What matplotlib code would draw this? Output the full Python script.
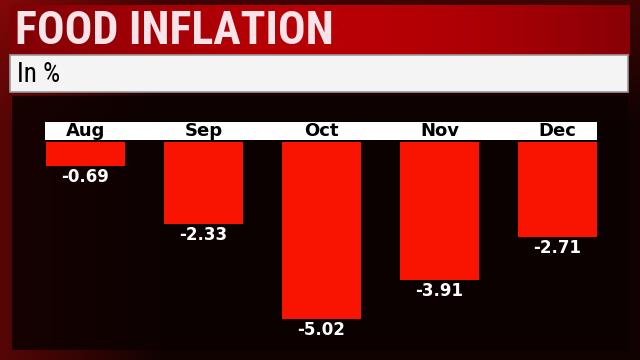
import numpy as np
import matplotlib.pyplot as plt
from matplotlib.patches import Rectangle
from matplotlib.transforms import blended_transform_factory
from matplotlib import font_manager

months = ['Aug', 'Sep', 'Oct', 'Nov', 'Dec']
food_inflation = [-0.69, -2.33, -5.02, -3.91, -2.71]

W, H = 640, 360

# pick a condensed face if one is installed
names = {f.name for f in font_manager.fontManager.ttflist}
narrow = [n for n in ['Liberation Sans Narrow', 'Roboto Condensed', 'Open Sans Condensed',
                      'DejaVu Sans'] if n in names]
cond_stretch = 'condensed'

fig = plt.figure(figsize=(6.4, 3.6), dpi=100, facecolor='#120202')

def px(x0, y0, x1, y1):
    # pixel box (top-left origin) -> figure fraction rect
    return [x0 / W, 1 - y1 / H, (x1 - x0) / W, (y1 - y0) / H]

def box(x0, y0, x1, y1, **kw):
    r = px(x0, y0, x1, y1)
    fig.add_artist(Rectangle(r[:2], r[2], r[3], transform=fig.transFigure, **kw))

# background with a reddish glow on the left/top
bg = fig.add_axes([0, 0, 1, 1], zorder=0)
bg.set_axis_off()
xx, yy = np.meshgrid(np.linspace(0, 1, 320), np.linspace(0, 1, 180))
glow = np.clip(1 - xx * 4, 0, 1) * 0.6 + np.clip(1 - yy * 3, 0, 1) * 0.4
rgb = np.zeros((180, 320, 3))
rgb[..., 0] = 0.07 + 0.45 * glow
rgb[..., 1] = 0.01 + 0.02 * glow
rgb[..., 2] = 0.01 + 0.02 * glow
bg.imshow(rgb, extent=[0, 1, 0, 1], aspect='auto')
bg.set_xlim(0, 1)
bg.set_ylim(0, 1)

# title band
band = np.linspace(0, 1, 100)[None, :]
tb = fig.add_axes(px(10, 5, 630, 56), zorder=1)
tb.set_axis_off()
tb.imshow(np.dstack([0.50 + 0.22 * np.sin(band * 3), 0.0 * band, 0.02 + 0 * band]),
          extent=[0, 1, 0, 1], aspect='auto')
fig.text(15 / W, 1 - 31 / H, 'FOOD INFLATION', color='#f7e4e9', fontsize=33,
         fontweight='bold', family=narrow, fontstretch=cond_stretch,
         va='center', ha='left', zorder=3)

# subtitle strip
box(10, 55, 628, 92, facecolor='#f4f4f4', edgecolor='#9a9a9a', lw=1.2, zorder=2)
fig.text(17 / W, 1 - 74 / H, 'In %', color='black', fontsize=19.5,
         family=narrow, fontstretch=cond_stretch, va='center', ha='left', zorder=3)

# dark chart panel
box(12, 96, 628, 350, facecolor='#0c0101', edgecolor='none', alpha=0.85, zorder=1)

# month header strip
box(45, 122, 597, 140, facecolor='white', edgecolor='none', zorder=2)

ax = fig.add_axes(px(26.5, 142, 616.5, 350), zorder=4)
ax.set_facecolor('none')
x = np.arange(len(months))
ax.bar(x, food_inflation, width=0.67, color='#f81400', edgecolor='none')
ax.set_xlim(-0.5, len(months) - 0.5)
ax.set_ylim(-5.91, 0)
ax.set_axis_off()

hdr = blended_transform_factory(ax.transData, fig.transFigure)
for i, m in enumerate(months):
    ax.text(i, 1 - 131 / H, m, transform=hdr, ha='center', va='center',
            fontsize=13, fontweight='bold', color='black', clip_on=False)
for i, v in enumerate(food_inflation):
    ax.annotate(f'{v:.2f}', (i, v), xytext=(0, -1.5), textcoords='offset points',
                ha='center', va='top', fontsize=12, fontweight='bold', color='white')

fig.savefig('out.png', dpi=100, facecolor=fig.get_facecolor())
